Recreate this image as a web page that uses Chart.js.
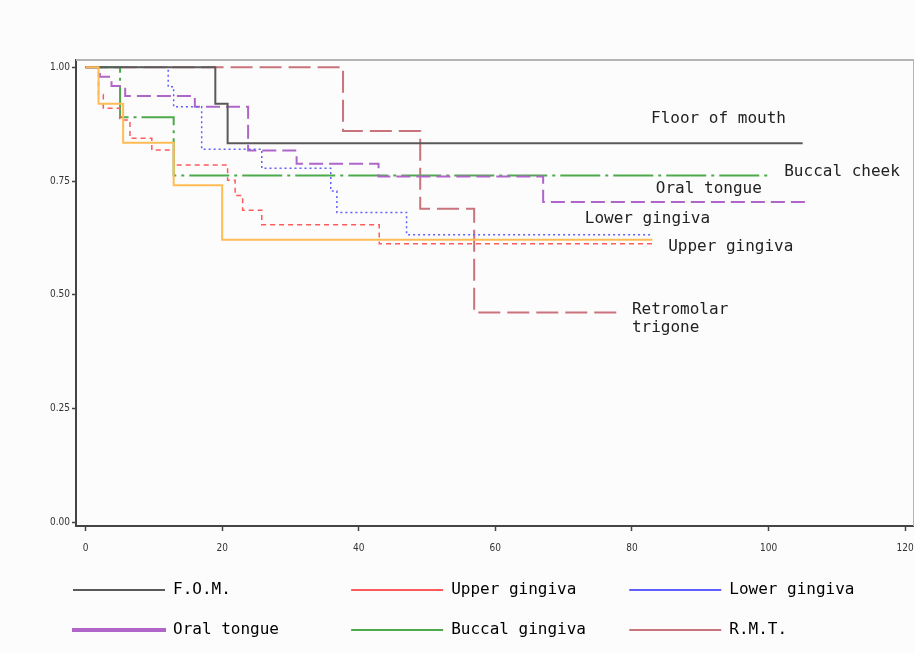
<!DOCTYPE html>
<html>
<head>
<meta charset="utf-8">
<script src="https://cdn.jsdelivr.net/npm/chart.js@4"></script>
<style>
  html, body { margin: 0; padding: 0; background: #fcfcfc; }
  canvas { display: block; }
</style>
</head>
<body>
<canvas id="km" width="914" height="654"></canvas>
<script>
// survival curves (time in months, survival proportion)
const xTicks = [0, 20, 40, 60, 80, 100, 120];
const yTicks = [0, 0.25, 0.5, 0.75, 1];

const fomTime = [0, 19, 20.8, 105];
const fomSurv = [1, 0.92, 0.833, 0.833];

const upperTime = [0, 1.9, 2.6, 5.0, 6.5, 9.7, 12.9, 20.8, 21.9, 23.0, 25.8, 43, 83];
const upperSurv = [1, 0.94, 0.91, 0.884, 0.844, 0.818, 0.785, 0.752, 0.718, 0.686, 0.654, 0.612, 0.612];

const lowerTime = [0, 12.1, 12.9, 17, 25.8, 35.9, 36.8, 47, 83];
const lowerSurv = [1, 0.957, 0.913, 0.820, 0.778, 0.728, 0.681, 0.632, 0.632];

const oralTime = [0, 2.1, 3.8, 5.8, 16, 23.8, 30.9, 42.9, 67, 106];
const oralSurv = [1, 0.979, 0.959, 0.937, 0.913, 0.817, 0.788, 0.760, 0.704, 0.704];

const buccalTime = [0, 5.05, 12.9, 100.2];
const buccalSurv = [1, 0.890, 0.762, 0.762];

const rmtTime = [0, 37.7, 49, 56.9, 78.2];
const rmtSurv = [1, 0.860, 0.689, 0.461, 0.461];

const otherTime = [0, 1.9, 5.5, 12.9, 20.0, 83];
const otherSurv = [1, 0.920, 0.834, 0.741, 0.621, 0.621];

function pts(t, s) {
    return t.map((v, i) => ({ x: v, y: s[i] }));
}

const monoFont = "'DejaVu Sans Mono', 'Liberation Mono', monospace";
const tickFont = { family: "'DejaVu Sans Condensed', sans-serif", size: 10 };

// writes the site names next to the curves
const curveLabels = {
    id: 'curveLabels',
    afterDatasetsDraw(chart, args, opts) {
        const ctx = chart.ctx;
        const xs = chart.scales.x, ys = chart.scales.y;
        ctx.save();
        ctx.font = '16px ' + monoFont;
        ctx.fillStyle = '#222';
        ctx.textAlign = 'left';
        ctx.textBaseline = 'middle';
        opts.items.forEach(it => {
            ctx.fillText(it.text, xs.getPixelForValue(it.x), ys.getPixelForValue(it.y));
        });
        ctx.restore();
    }
};

// grey frame round the plot area
const frame = {
    id: 'frame',
    beforeDatasetsDraw(chart) {
        const a = chart.chartArea, ctx = chart.ctx;
        ctx.save();
        ctx.strokeStyle = '#b4b4b4';
        ctx.lineWidth = 2;
        ctx.beginPath();
        ctx.moveTo(a.left, a.top);
        ctx.lineTo(a.right, a.top);
        ctx.lineTo(a.right, a.bottom);
        ctx.stroke();
        ctx.restore();
    }
};

function noPad(s) {
    s.paddingLeft = 0;
    s.paddingRight = 0;
    s.paddingTop = 0;
    s.paddingBottom = 0;
}

new Chart(document.getElementById('km'), {
    type: 'line',
    data: {
        datasets: [
            { label: 'F.O.M.', data: pts(fomTime, fomSurv), borderColor: '#5a5a5a', borderWidth: 2 },
            { label: 'Upper gingiva', data: pts(upperTime, upperSurv), borderColor: '#ff5a5a', borderWidth: 1.5, borderDash: [5, 4] },
            { label: 'Lower gingiva', data: pts(lowerTime, lowerSurv), borderColor: '#5f5fff', borderWidth: 1.5, borderDash: [2, 3] },
            { label: 'Oral tongue', data: pts(oralTime, oralSurv), borderColor: '#b065c8', borderWidth: 2, borderDash: [14, 6] },
            { label: 'Buccal gingiva', data: pts(buccalTime, buccalSurv), borderColor: '#4caa4c', borderWidth: 2, borderDash: [40, 5, 3, 5] },
            { label: 'R.M.T.', data: pts(rmtTime, rmtSurv), borderColor: '#c9737c', borderWidth: 2, borderDash: [22, 7] },
            { label: '', data: pts(otherTime, otherSurv), borderColor: '#ffbc55', borderWidth: 2, order: -1 }
        ]
    },
    options: {
        responsive: false,
        animation: false,
        stepped: 'before',
        elements: { point: { radius: 0 }, line: { tension: 0 } },
        layout: { padding: { left: 49, right: 0, top: 60, bottom: 6 } },
        scales: {
            x: {
                type: 'linear',
                min: -1.4,
                max: 121.3,
                afterBuildTicks: s => { s.ticks = xTicks.map(v => ({ value: v })); },
                afterFit: s => { s.height = 32; noPad(s); },
                border: { color: '#444', width: 2 },
                grid: { drawOnChartArea: false, tickLength: 5, tickColor: '#444', tickWidth: 1.5 },
                ticks: { color: '#333', padding: 11, maxRotation: 0, font: tickFont }
            },
            y: {
                min: -0.008,
                max: 1.016,
                afterBuildTicks: s => { s.ticks = yTicks.map(v => ({ value: v })); },
                afterFit: s => { s.width = 27; noPad(s); },
                border: { color: '#444', width: 2 },
                grid: { drawOnChartArea: false, tickLength: 4, tickColor: '#444', tickWidth: 1.5 },
                ticks: { color: '#333', padding: 2, callback: v => v.toFixed(2), font: tickFont }
            }
        },
        plugins: {
            tooltip: { enabled: false },
            legend: {
                position: 'bottom',
                align: 'start',
                maxHeight: 96,
                labels: {
                    boxWidth: 92,
                    boxHeight: 2,
                    padding: 24,
                    color: '#222',
                    font: { family: monoFont, size: 16 },
                    generateLabels(chart) {
                        return chart.data.datasets.map((ds, i) => ({
                            text: ds.label.padEnd(16, ' '),
                            fillStyle: ds.borderColor,
                            strokeStyle: ds.borderColor,
                            lineWidth: ds.label === 'Oral tongue' ? 2 : 0,
                            hidden: false,
                            datasetIndex: i
                        })).filter(it => chart.data.datasets[it.datasetIndex].label);
                    }
                }
            },
            curveLabels: {
                items: [
                    { text: 'Floor of mouth', x: 82.8, y: 0.886 },
                    { text: 'Buccal cheek', x: 102.3, y: 0.770 },
                    { text: 'Oral tongue', x: 83.5, y: 0.732 },
                    { text: 'Lower gingiva', x: 73.1, y: 0.666 },
                    { text: 'Upper gingiva', x: 85.3, y: 0.605 },
                    { text: 'Retromolar', x: 80.0, y: 0.467 },
                    { text: 'trigone', x: 80.0, y: 0.427 }
                ]
            }
        }
    },
    plugins: [frame, curveLabels]
});
</script>
</body>
</html>
